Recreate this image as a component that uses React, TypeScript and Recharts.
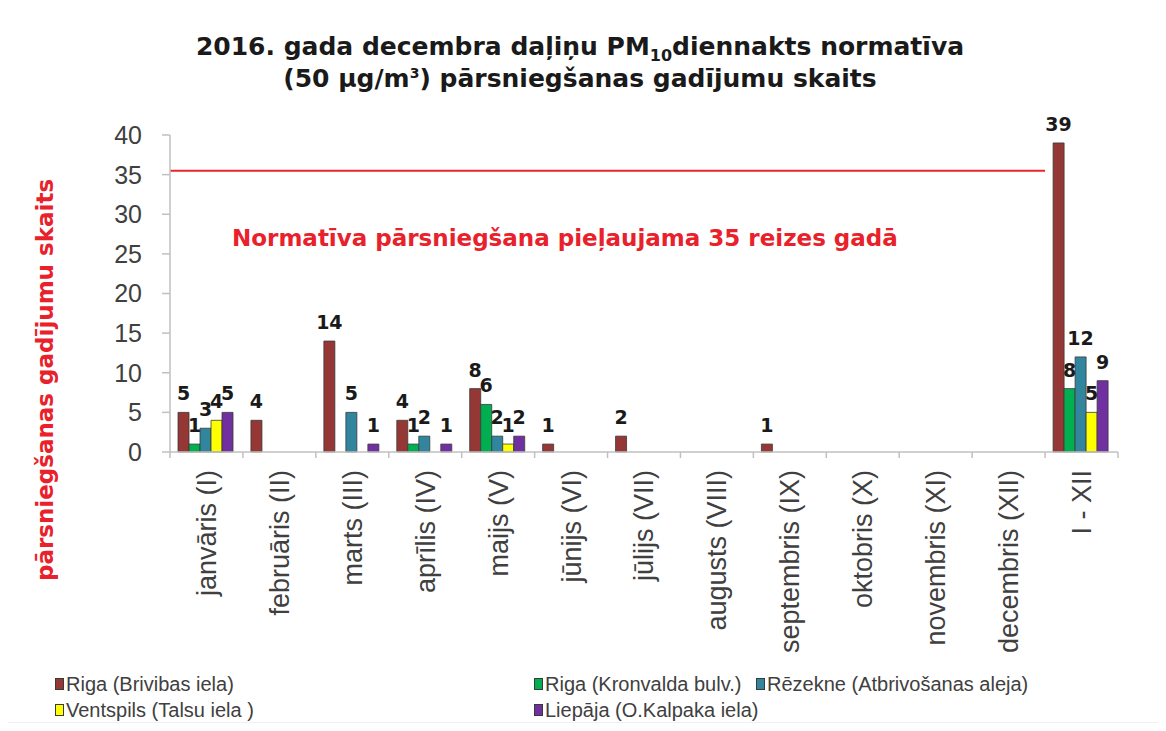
import { BarChart, Bar, XAxis, YAxis, ReferenceLine, LabelList } from 'recharts'

// ── data ─────────────────────────────────────────────────────────────────────

const categories = [
  'janvāris (I)', 'februāris (II)', 'marts (III)', 'aprīlis (IV)', 'maijs (V)',
  'jūnijs (VI)', 'jūlijs (VII)', 'augusts (VIII)', 'septembris (IX)',
  'oktobris (X)', 'novembris (XI)', 'decembris (XII)', 'I - XII',
]

const rigaBrivibas = [5, 4, 14, 4, 8, 1, 2, null, 1, null, null, null, 39]
const rigaKronvalda = [1, null, null, 1, 6, null, null, null, null, null, null, null, 8]
const rezekne = [3, null, 5, 2, 2, null, null, null, null, null, null, null, 12]
const ventspils = [4, null, null, null, 1, null, null, null, null, null, null, null, 5]
const liepaja = [5, null, 1, 1, 2, null, null, null, null, null, null, null, 9]

const yTicks = [0, 5, 10, 15, 20, 25, 30, 35, 40]
const LIMIT = 35.5 // red line as drawn (norm: 35 per year)

const series = [
  { key: 'rigaB', name: 'Riga (Brivibas iela)', color: '#953735' },
  { key: 'rigaK', name: 'Riga (Kronvalda bulv.)', color: '#00b050' },
  { key: 'rez', name: 'Rēzekne (Atbrivošanas aleja)', color: '#31859c' },
  { key: 'vent', name: 'Ventspils (Talsu iela )', color: '#ffff00' },
  { key: 'liep', name: 'Liepāja (O.Kalpaka iela)', color: '#7030a0' },
]

const chartData = categories.map((c, i) => ({
  name: c,
  rigaB: rigaBrivibas[i],
  rigaK: rigaKronvalda[i],
  rez: rezekne[i],
  vent: ventspils[i],
  liep: liepaja[i],
}))

// ── bits ─────────────────────────────────────────────────────────────────────

const TEXT = '#404040'
const AXIS = '#c0c0c0'
const RED = '#e8212b'

function XTick(props: any) {
  const { x, y, payload, index } = props
  const off = payload.offset || 0
  return (
    <g>
      <line x1={x - off} x2={x - off} y1={y} y2={y + 6} stroke={AXIS} strokeWidth={1.5} />
      {index === categories.length - 1 && (
        <line x1={x + off} x2={x + off} y1={y} y2={y + 6} stroke={AXIS} strokeWidth={1.5} />
      )}
      <text
        x={x}
        y={y + 18}
        transform={`rotate(-90 ${x} ${y + 18})`}
        textAnchor="end"
        dy="0.35em"
        fill={TEXT}
        fontSize={27}
        fontFamily="Liberation Sans, Arial, sans-serif"
      >
        {payload.value}
      </text>
    </g>
  )
}

function ValueLabel(props: any) {
  const { x, y, width, value } = props
  if (value == null || value === 0) return null
  return (
    <text
      x={x + width / 2}
      y={y - 12}
      textAnchor="middle"
      fill="#1a1a1a"
      fontSize={19}
      fontWeight="bold"
      fontFamily="DejaVu Sans, Verdana, sans-serif"
    >
      {value}
    </text>
  )
}

const legendRows = [
  [{ s: 0, left: 55 }, { s: 1, left: 534 }, { s: 2, left: 756 }],
  [{ s: 3, left: 55 }, { s: 4, left: 534 }],
]

// ── component ────────────────────────────────────────────────────────────────

export default function App() {
  return (
    <div
      style={{
        position: 'relative',
        width: 1166,
        height: 731,
        margin: -8,
        background: '#ffffff',
        fontFamily: 'DejaVu Sans, Verdana, sans-serif',
        overflow: 'hidden',
      }}
    >
      {/* title */}
      <div
        style={{
          position: 'absolute',
          top: 31,
          left: 0,
          width: 1160,
          textAlign: 'center',
          fontWeight: 'bold',
          fontSize: 25,
          lineHeight: '32px',
          color: '#1a1a1a',
        }}
      >
        <div>
          2016. gada decembra daļiņu PM
          <span style={{ fontSize: 16, position: 'relative', top: 6, lineHeight: 0 }}>10</span>
          diennakts normatīva
        </div>
        <div>
          (50 μg/m
          <span style={{ fontSize: 14, position: 'relative', top: -9, lineHeight: 0 }}>3</span>
          ) pārsniegšanas gadījumu skaits
        </div>
      </div>

      {/* y-axis title */}
      <div
        style={{
          position: 'absolute',
          left: 45,
          top: 380,
          transform: 'translate(-50%, -50%) rotate(-90deg)',
          whiteSpace: 'nowrap',
          color: RED,
          fontWeight: 'bold',
          fontSize: 23,
        }}
      >
        pārsniegšanas gadījumu skaits
      </div>

      {/* note */}
      <div
        style={{
          position: 'absolute',
          left: 232,
          top: 225,
          whiteSpace: 'nowrap',
          color: RED,
          fontWeight: 'bold',
          fontSize: 23,
        }}
      >
        Normatīva pārsniegšana pieļaujama 35 reizes gadā
      </div>

      <div style={{ position: 'absolute', left: 0, top: 0 }}>
        <BarChart
          width={1166}
          height={660}
          data={chartData}
          margin={{ top: 135, right: 48, left: 0, bottom: 0 }}
          barCategoryGap="11%"
          barGap={0}
        >
          <YAxis
            width={170}
            domain={[0, 40]}
            ticks={yTicks}
            interval={0}
            stroke={AXIS}
            strokeWidth={1.5}
            tickSize={8}
            tickMargin={20}
            tick={{ fill: TEXT, fontSize: 25, fontFamily: 'Liberation Sans, Arial, sans-serif' }}
          />
          <XAxis
            dataKey="name"
            height={208}
            interval={0}
            stroke={AXIS}
            strokeWidth={1.5}
            tickLine={false}
            tickSize={0}
            tickMargin={0}
            tick={<XTick />}
          />
          <ReferenceLine
            segment={[
              { x: categories[0], y: LIMIT },
              { x: categories[categories.length - 1], y: LIMIT },
            ]}
            position="start"
            stroke="#e8262b"
            strokeWidth={2}
            ifOverflow="visible"
          />
          {series.map((s) => (
            <Bar
              key={s.key}
              dataKey={s.key}
              name={s.name}
              fill={s.color}
              stroke="#3a3a3a"
              strokeWidth={0.8}
              isAnimationActive={false}
            >
              <LabelList dataKey={s.key} content={<ValueLabel />} />
            </Bar>
          ))}
        </BarChart>
      </div>

      {/* legend */}
      {legendRows.map((row, ri) =>
        row.map((it) => {
          const s = series[it.s]
          return (
            <div
              key={s.key}
              style={{
                position: 'absolute',
                left: it.left,
                top: 672 + ri * 26,
                display: 'flex',
                alignItems: 'center',
                whiteSpace: 'nowrap',
                fontFamily: 'Liberation Sans, Arial, sans-serif',
                fontSize: 20,
                lineHeight: '24px',
                color: TEXT,
              }}
            >
              <span
                style={{
                  display: 'inline-block',
                  width: 7,
                  height: 10,
                  background: s.color,
                  border: '1px solid #3a3a3a',
                  marginRight: 2,
                }}
              />
              {s.name}
            </div>
          )
        })
      )}

      {/* bottom band */}
      <div
        style={{
          position: 'absolute',
          left: 0,
          top: 722,
          width: 1166,
          height: 9,
          background: '#eaf0f3',
        }}
      />
    </div>
  )
}
